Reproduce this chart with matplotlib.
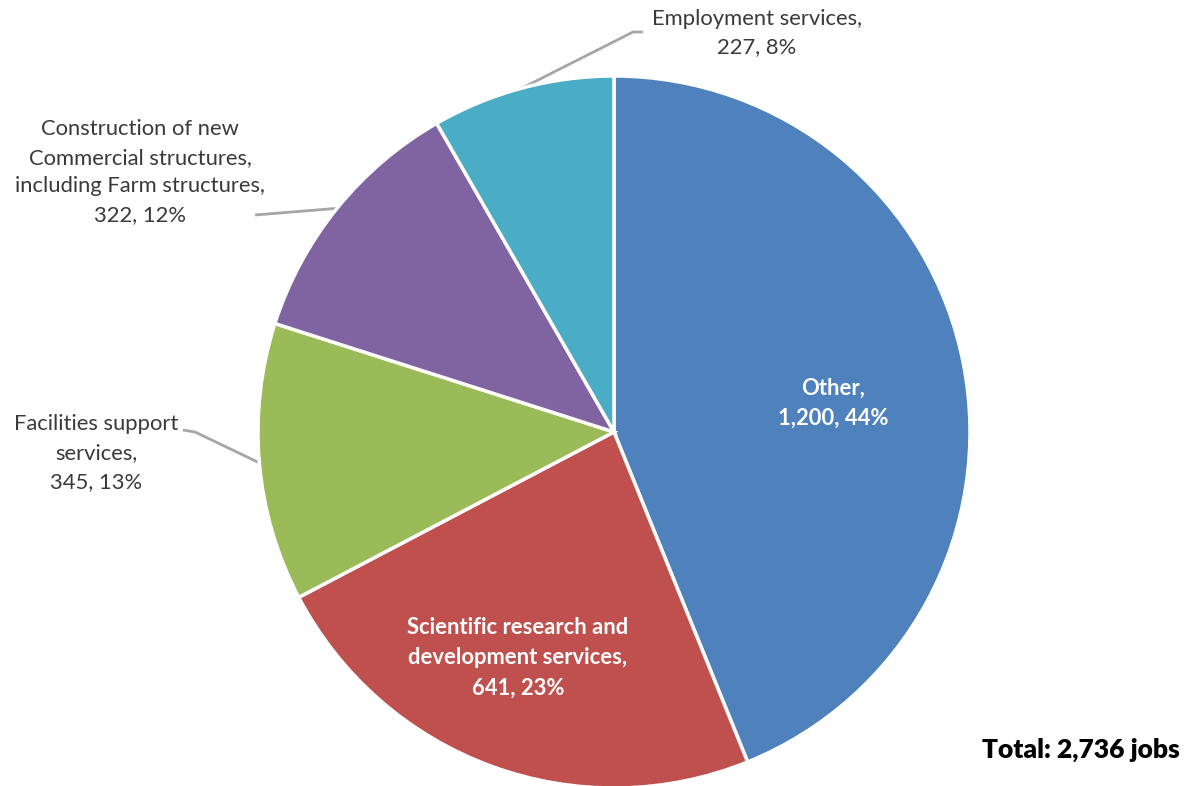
import matplotlib
matplotlib.use("Agg")
import matplotlib.pyplot as plt
import numpy as np

# ----- data -----
sectors = [
    "Other",
    "Scientific research and\ndevelopment services",
    "Facilities support\nservices",
    "Construction of new\nCommercial structures,\nincluding Farm structures",
    "Employment services",
]
jobs = [1200, 641, 345, 322, 227]
percents = [44, 23, 13, 12, 8]
total_jobs = 2736
colors = ["#4F81BD", "#C0504D", "#9BBB59", "#8064A2", "#4BACC6"]

plt.rcParams["font.family"] = ["Lato", "DejaVu Sans"]

W, H = 1187, 786
cx, cy, R = 614, 432, 356  # pie centre / radius in pixels

fig = plt.figure(figsize=(W / 100, H / 100), dpi=100)
ax = fig.add_axes([0, 0, 1, 1])

wedges, _ = ax.pie(
    jobs,
    colors=colors,
    startangle=90,
    counterclock=False,
    radius=1.0,
    wedgeprops=dict(edgecolor="white", linewidth=2.5),
)
# pie() resets the limits, so set them afterwards
ax.set_xlim(-cx / R, (W - cx) / R)
ax.set_ylim((cy - H) / R, cy / R)
ax.set_aspect("equal")
ax.axis("off")

def label_text(i):
    return f"{sectors[i]},\n{jobs[i]:,}, {percents[i]}%"

def px(x, y):
    return (x - cx) / R, (cy - y) / R

fs = 15.8
ls = 1.55

# labels inside the slices
inside = {0: (833, 403), 1: (518, 658)}
for i, (x, y) in inside.items():
    tx, ty = px(x, y)
    ax.text(tx, ty, label_text(i), ha="center", va="center", color="white",
            fontsize=fs, fontweight="bold", linespacing=ls)

# labels outside the slices, with leader lines
outside = {
    2: ((96, 453), [(183, 430), (195, 432)]),
    3: ((140, 172), [(255, 215)]),
    4: ((757, 33), [(643, 32), (633, 32)]),
}
for i, ((x, y), pts) in outside.items():
    tx, ty = px(x, y)
    ax.text(tx, ty, label_text(i), ha="center", va="center", color="#3A3A3A",
            fontsize=fs, linespacing=ls)
    w = wedges[i]
    mid = np.deg2rad((w.theta1 + w.theta2) / 2)
    xs = [px(*p)[0] for p in pts] + [np.cos(mid)]
    ys = [px(*p)[1] for p in pts] + [np.sin(mid)]
    ax.plot(xs, ys, color="#A6A6A6", lw=2, solid_capstyle="butt", zorder=0)

tx, ty = px(1180, 750)
ax.text(tx, ty, f"Total: {total_jobs:,} jobs", ha="right", va="center",
        fontsize=19, fontweight="heavy", color="black")

fig.savefig("out.png", dpi=100)
